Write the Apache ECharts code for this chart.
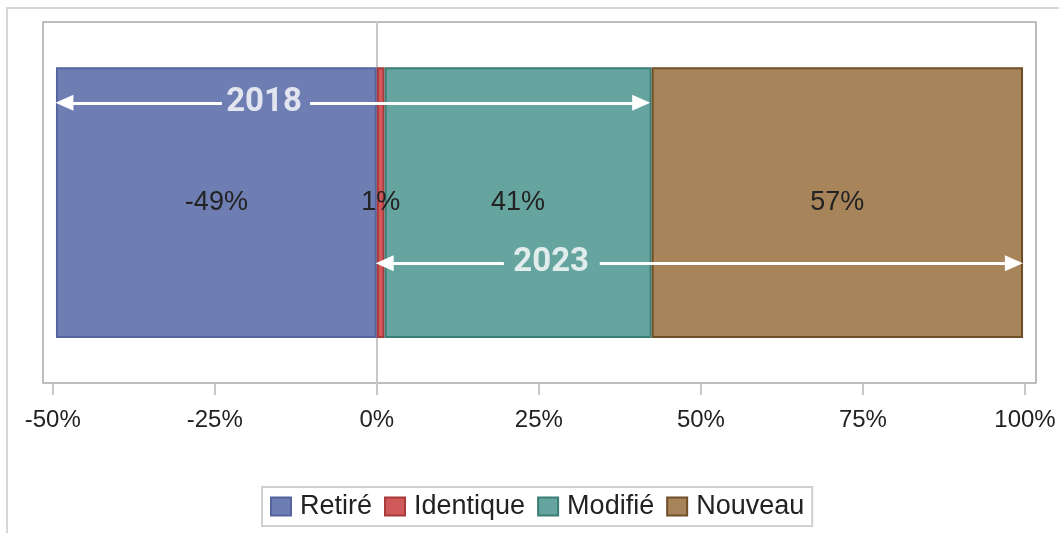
<!DOCTYPE html>
<html>
<head>
<meta charset="utf-8">
<script src="https://cdn.jsdelivr.net/npm/echarts@6/dist/echarts.min.js"></script>
<style>html,body{margin:0;padding:0;background:#fff;}#c{width:1059px;height:533px;}</style>
</head>
<body>
<div id="c"></div>
<script>
// ---- data ----
var categories = ['Total'];
var seriesNames = ['Retiré', 'Identique', 'Modifié', 'Nouveau'];
var retire = [-49.5];
var identique = [1.2];
var modifie = [41.2];
var nouveau = [57.3];
var tickValues = [-50, -25, 0, 25, 50, 75, 100];
// arrows
var arrowYears = ['2018', '2023'];
var arrowTextX = [-17.4, 26.9];
var arrowLeftTip = [-49.5, -0.1];
var arrowLeftGap = [-23.9, 19.6];
var arrowRightGap = [-10.3, 34.4];
var arrowRightTip = [42.1, 99.6];
var arrowLevel = [77.6, 33.2];

var fills = ['#6E7EB3', '#D05A5A', '#66A59F', '#A8845B'];
var borders = ['#55649f', '#a83a3a', '#3a7d74', '#6f4f28'];
var valuesList = [retire, identique, modifie, nouveau];

var chart = echarts.init(document.getElementById('c'));
var PX = 6.483; // approx pixels per percent, only to pull arrow line ends back under the arrow head
var headLen = 17;

var series = seriesNames.map(function (n, i) {
  return {
    name: n,
    type: 'bar',
    stack: 'total',
    barWidth: '75%',
    data: valuesList[i],
    itemStyle: { color: fills[i], borderColor: borders[i], borderWidth: 2 },
    label: {
      show: true,
      position: 'inside',
      fontFamily: 'Liberation Sans',
      fontSize: 27,
      color: '#222',
      textBorderWidth: 0,
      formatter: function (p) { return Math.round(p.value) + '%'; }
    },
    emphasis: { disabled: true }
  };
});

var mlData = [];
for (var k = 0; k < arrowYears.length; k++) {
  var off = (headLen / 2) / PX;
  mlData.push([{ coord: [arrowLeftGap[k], arrowLevel[k]] }, { coord: [arrowLeftTip[k] + off, arrowLevel[k]] }]);
  mlData.push([{ coord: [arrowRightGap[k], arrowLevel[k]] }, { coord: [arrowRightTip[k] - off, arrowLevel[k]] }]);
}

series.push({
  type: 'scatter',
  xAxisIndex: 0,
  yAxisIndex: 1,
  symbolSize: 0,
  silent: true,
  z: 10,
  data: arrowYears.map(function (y, k) { return { name: y, value: [arrowTextX[k], arrowLevel[k]] }; }),
  label: {
    show: true,
    position: 'inside',
    formatter: '{b}',
    color: '#ffffff',
    textBorderWidth: 0,
    textBorderColor: 'transparent',
    fontFamily: 'Roboto',
    fontWeight: 'bold',
    fontSize: 33
  },
  markLine: {
    silent: true,
    symbol: ['none', 'triangle'],
    symbolSize: [16, 18],
    label: { show: false },
    lineStyle: { color: '#fff', width: 3, type: 'solid' },
    emphasis: { disabled: true },
    data: mlData
  }
});

chart.setOption({
  animation: false,
  graphic: [{
    type: 'rect',
    shape: { x: 7, y: 8, width: 1200, height: 800 },
    style: { fill: 'none', stroke: '#d6d6d6', lineWidth: 2 },
    silent: true,
    z: -10
  }],
  grid: {
    left: 43, right: 23, top: 22, bottom: 150,
    show: true, borderColor: '#a8a8a8', borderWidth: 1.5, backgroundColor: 'transparent'
  },
  legend: {
    data: seriesNames.map(function (n) { return { name: n, icon: 'rect' }; }),
    left: 262, top: 487,
    itemWidth: 20, itemHeight: 18, itemGap: 12,
    padding: [6, 8, 6, 8],
    borderColor: '#cfcfcf', borderWidth: 2,
    selectedMode: false,
    textStyle: { fontFamily: 'Liberation Sans', fontSize: 27, color: '#222', padding: [0, 0, 0, 4] }
  },
  xAxis: {
    type: 'value',
    min: -51.5, max: 101.7,
    axisLine: { show: false },
    splitLine: { show: false },
    axisTick: { show: true, length: 12, customValues: tickValues, lineStyle: { color: '#c8c8c8', width: 2 } },
    axisLabel: {
      customValues: tickValues,
      margin: 25,
      fontFamily: 'Liberation Sans', fontSize: 24, color: '#222',
      formatter: function (v) { return v + '%'; }
    }
  },
  yAxis: [{
    type: 'category',
    data: categories,
    axisLine: { show: true, onZero: true, lineStyle: { color: '#c8c8c8', width: 2 } },
    axisTick: { show: false },
    axisLabel: { show: false },
    splitLine: { show: false }
  }, {
    type: 'value',
    min: 0, max: 100,
    show: false
  }],
  series: series
});
</script>
</body>
</html>
